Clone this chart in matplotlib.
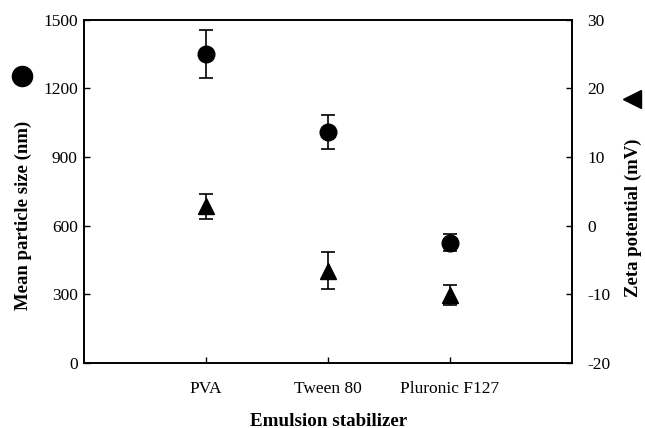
import matplotlib
matplotlib.use("Agg")
import matplotlib.pyplot as plt

categories = ["PVA", "Tween 80", "Pluronic F127"]
size_mean = [1350, 1008, 525]
size_err = [105, 73, 38]
zeta_mean = [2.8, -6.6, -10.1]
zeta_err = [1.8, 2.7, 1.5]

left_ticks = [0, 300, 600, 900, 1200, 1500]
right_ticks = [-20, -10, 0, 10, 20, 30]

plt.rcParams['font.family'] = ['Liberation Serif', 'DejaVu Serif']
plt.rcParams['axes.unicode_minus'] = False

fig = plt.figure(figsize=(6.45, 4.28), dpi=100)
ax = fig.add_axes([84/645, 65/428, (572-84)/645, (363-19.5)/428])
ax2 = ax.twinx()

x = [1, 2, 3]
ax.errorbar(x, size_mean, yerr=size_err, fmt='o', color='black', ms=12,
            capsize=4.7, elinewidth=1.2, capthick=1.2)
ax2.errorbar(x, zeta_mean, yerr=zeta_err, fmt='^', color='black', ms=12,
             capsize=4.7, elinewidth=1.2, capthick=1.2)

ax.set_xlim(0, 4)
ax.set_ylim(0, 1500)
ax2.set_ylim(-20, 30)
ax.set_xticks(x)
ax.set_xticklabels(categories)
ax.set_yticks(left_ticks)
ax2.set_yticks(right_ticks)

ax.tick_params(axis='x', direction='in', length=4, width=1, pad=13, labelsize=12.5)
ax.tick_params(axis='y', direction='in', length=4, width=1, pad=4.5, labelsize=12.5)
ax2.tick_params(axis='y', direction='in', length=4, width=1, pad=11, labelsize=12.5)
for a in (ax, ax2):
    for s in a.spines.values():
        s.set_linewidth(1.2)

fig.text(329/645, 2.5/428, "Emulsion stabilizer", ha='center', va='baseline',
         fontsize=13.7, fontweight='bold')
fig.text(23.5/645, 1 - 215/428, "Mean particle size (nm)", ha='center', va='center',
         rotation=90, fontsize=13.5, fontweight='bold')
fig.text(633.5/645, 1 - 218/428, "Zeta potential (mV)", ha='center', va='center',
         rotation=90, fontsize=13.5, fontweight='bold')

# legend symbols next to axis labels
fig.lines.append(matplotlib.lines.Line2D([21.7/645], [1 - 76/428], marker='o', ms=14.5,
                                         color='black', transform=fig.transFigure))
fig.lines.append(matplotlib.lines.Line2D([632/645], [1 - 99/428], marker='<', ms=13,
                                         color='black', transform=fig.transFigure))

fig.savefig("out.png", dpi=100)
